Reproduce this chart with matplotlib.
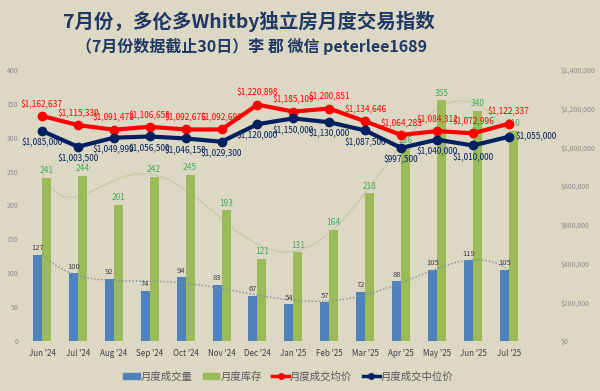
#-------------------------------------------Libraries
import numpy as np
import matplotlib
matplotlib.use('Agg')
import matplotlib.pyplot as plt
from matplotlib.lines import Line2D
from matplotlib.patches import Patch
#---------------------------------------fonts
plt.rcParams['font.family'] = ['Noto Sans CJK SC', 'DejaVu Sans']
#---------------------------------------data
months = ["Jun '24", "Jul '24", "Aug '24", "Sep '24", "Oct '24", "Nov '24", "Dec '24",
          "Jan '25", "Feb '25", "Mar '25", "Apr '25", "May '25", "Jun '25", "Jul '25"]
sales = [127, 100, 92, 74, 94, 83, 67, 54, 57, 72, 88, 105, 119, 105]
inventory = [241, 244, 201, 242, 245, 193, 121, 131, 164, 218, 286, 355, 340, 310]
avg_price = [1162637, 1115330, 1091478, 1106658, 1092676, 1092690, 1220898,
             1185109, 1200851, 1134646, 1064283, 1084312, 1072996, 1122337]
median_price = [1085000, 1003500, 1049999, 1056500, 1046150, 1029300, 1120000,
                1150000, 1130000, 1087500, 997500, 1040000, 1010000, 1055000]
left_ticks = [0, 50, 100, 150, 200, 250, 300, 350, 400]
right_ticks = [0, 200000, 400000, 600000, 800000, 1000000, 1200000, 1400000]
#---------------------------------------colours
bg = '#DDD8C4'
c_sales = '#4F81BD'
c_inv = '#9BBB59'
c_avg = '#FF0000'
c_med = '#002060'
c_title = '#1F3864'
#---------------------------------------figure
fig = plt.figure(figsize=(6, 3.91), dpi=100, facecolor=bg)
ax = fig.add_axes([0.04, 0.128, 0.838, 0.693])
ax.set_facecolor(bg)
ax2 = ax.twinx()

x = np.arange(len(months))
w = 0.25
ax.bar(x - w / 2, sales, width=w, color=c_sales, zorder=2)
ax.bar(x + w / 2, inventory, width=w, color=c_inv, zorder=2)

# polynomial trend lines like the excel ones
xs = np.linspace(0, len(months) - 1, 300)
ps = np.polyfit(x, sales, 6)
pi = np.polyfit(x, inventory, 6)
ax.plot(xs, np.polyval(ps, xs), color='#7d8ea3', lw=1.0, ls=(0, (1, 1.5)), zorder=3)
ax.plot(xs, np.polyval(pi, xs), color='#c8cca6', lw=1.0, zorder=1)

for i in range(len(months)):
    ax.text(x[i] - w / 2, sales[i] + 4, str(sales[i]), ha='center', va='bottom',
            fontsize=5.5, color='#404040', zorder=4)
    ax.text(x[i] + w / 2, inventory[i] + 4, str(inventory[i]), ha='center', va='bottom',
            fontsize=6, color='#3fae5e', zorder=4)

ax.set_xlim(-0.5, len(months) - 0.5)
ax.set_ylim(0, 400)
ax.set_yticks(left_ticks)
ax.set_xticks(x)
ax.set_xticklabels(months, fontsize=5.8, color='#404040')
ax.tick_params(axis='y', labelsize=5, colors='#8c8c8c', length=0, pad=4)
ax.tick_params(axis='x', length=0, pad=6)

#---------------------------------------price lines
ax2.plot(x, avg_price, color=c_avg, lw=3, marker='o', ms=6, zorder=5)
ax2.plot(x, median_price, color=c_med, lw=3, marker='o', ms=6, zorder=5)
for i in range(len(months)):
    ax2.annotate(f'${avg_price[i]:,}', (x[i], avg_price[i]), xytext=(0, 5),
                 textcoords='offset points', ha='center', va='bottom',
                 fontsize=6, color=c_avg)
    if i == len(months) - 1:
        ax2.annotate(f'${median_price[i]:,}', (x[i], median_price[i]), xytext=(5, 0),
                     textcoords='offset points', ha='left', va='center',
                     fontsize=6, color=c_med)
    else:
        ax2.annotate(f'${median_price[i]:,}', (x[i], median_price[i]), xytext=(0, -5),
                     textcoords='offset points', ha='center', va='top',
                     fontsize=6, color=c_med)
ax2.set_ylim(0, 1400000)
ax2.set_yticks(right_ticks)
ax2.set_yticklabels([f'${v:,}' for v in right_ticks])
ax2.tick_params(axis='y', labelsize=5, colors='#8c8c8c', length=0, pad=24)

for a in (ax, ax2):
    for s in a.spines.values():
        s.set_visible(False)

#---------------------------------------titles
fig.text(0.415, 0.944, '7月份，多伦多Whitby独立房月度交易指数', ha='center', va='center',
         fontsize=14, fontweight='bold', color=c_title)
fig.text(0.42, 0.88, '（7月份数据截止30日）李 郡 微信 peterlee1689', ha='center', va='center',
         fontsize=11.5, fontweight='bold', color=c_title)

#---------------------------------------legend
handles = [Patch(color=c_sales), Patch(color=c_inv),
           Line2D([], [], color=c_avg, lw=2.5, marker='o', ms=4),
           Line2D([], [], color=c_med, lw=2.5, marker='o', ms=4)]
names = ['月度成交量', '月度库存', '月度成交均价', '月度成交中位价']
fig.legend(handles, names, loc='center', bbox_to_anchor=(0.48, 0.037), ncol=4,
           frameon=False, fontsize=7.5, labelcolor='#595959', handlelength=1.6,
           handleheight=0.5, columnspacing=1.0, handletextpad=0.1)

fig.savefig('out.png', dpi=100, facecolor=bg)
#-------------------------------------------------------------end of program
